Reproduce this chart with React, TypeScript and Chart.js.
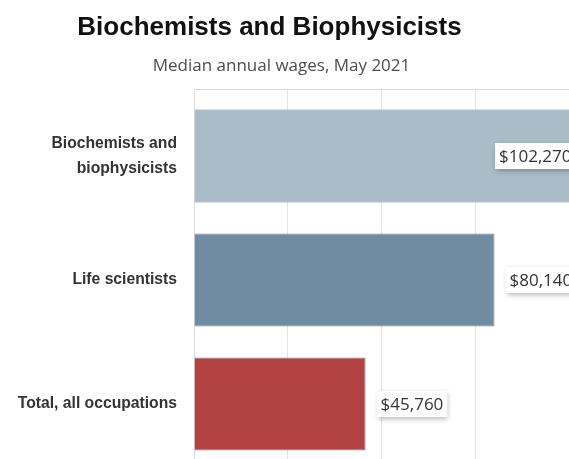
import { useEffect, useRef } from 'react';
import { Chart, registerables } from 'chart.js';

Chart.register(...registerables);

const TITLE = 'Biochemists and Biophysicists';
const SUBTITLE = 'Median annual wages, May 2021';
const categories: (string | string[])[] = [
  ['Biochemists and', 'biophysicists'],
  'Life scientists',
  'Total, all occupations',
];
const wages = [102270, 80140, 45760];
const barColors = ['#abbcc9', '#6f8ca3', '#b24242'];
const X_MIN = 0;
const X_MAX = 100000;
const X_STEP = 25000;

const fmt = (v: number) => '$' + v.toLocaleString('en-US');

const decorPlugin = {
  id: 'decor',
  afterDraw(chart: any) {
    const ctx = chart.ctx;
    const area = chart.chartArea;
    const xs = chart.scales.x;
    ctx.save();
    // top plot border
    ctx.strokeStyle = '#d9d9d9';
    ctx.lineWidth = 1;
    ctx.beginPath();
    ctx.moveTo(area.left, xs.top + 0.5);
    ctx.lineTo(area.right, xs.top + 0.5);
    ctx.stroke();
    // title + subtitle
    ctx.textAlign = 'center';
    ctx.textBaseline = 'alphabetic';
    ctx.fillStyle = '#111';
    ctx.font = 'bold 26px "Liberation Sans", Arial, sans-serif';
    ctx.fillText(TITLE, 269.5, 34.5);
    ctx.fillStyle = '#4d4d4d';
    ctx.font = '17px "Open Sans", sans-serif';
    ctx.fillText(SUBTITLE, 281.5, 71);
    ctx.restore();
  },
};

const valueLabelPlugin = {
  id: 'valueLabels',
  afterDatasetsDraw(chart: any) {
    const ctx = chart.ctx;
    const area = chart.chartArea;
    const meta = chart.getDatasetMeta(0);
    const data = chart.data.datasets[0].data as number[];
    ctx.save();
    ctx.font = '17px "Open Sans", sans-serif';
    meta.data.forEach((el: any, i: number) => {
      const text = fmt(data[i]);
      const tw = ctx.measureText(text).width;
      const w = tw + 8;
      const h = 26;
      const end = el.x;
      const bx = end > area.right ? end - 2 - w : end + 11;
      const by = el.y - h / 2;
      ctx.save();
      ctx.shadowColor = 'rgba(0,0,0,0.28)';
      ctx.shadowBlur = 5;
      ctx.shadowOffsetX = 1;
      ctx.shadowOffsetY = 2;
      ctx.fillStyle = '#ffffff';
      ctx.fillRect(bx, by, w, h);
      ctx.restore();
      ctx.fillStyle = '#333';
      ctx.textAlign = 'left';
      ctx.textBaseline = 'middle';
      ctx.fillText(text, bx + 4, el.y + 1);
    });
    ctx.restore();
  },
};

export default function App() {
  const ref = useRef<HTMLCanvasElement | null>(null);

  useEffect(() => {
    if (!ref.current) return;
    const chart = new Chart(ref.current, {
      type: 'bar',
      data: {
        labels: categories as any,
        datasets: [
          {
            data: wages,
            backgroundColor: barColors,
            borderColor: 'rgba(90,90,90,0.75)',
            borderWidth: 1,
            categoryPercentage: 1,
            barPercentage: 0.75,
          },
        ],
      },
      options: {
        indexAxis: 'y',
        animation: false,
        responsive: false,
        layout: { padding: { top: 89, left: 0, right: 0, bottom: 0 } },
        plugins: {
          legend: { display: false },
          title: { display: false },
          tooltip: { enabled: false },
        },
        scales: {
          x: {
            position: 'top',
            min: X_MIN,
            max: X_MAX,
            ticks: { display: false, stepSize: X_STEP },
            grid: { color: '#e3e3e3', drawTicks: true, tickLength: 5, lineWidth: 1 },
            border: { display: false },
            afterFit: (s: any) => {
              s.height = 5;
              s.paddingLeft = 0;
              s.paddingRight = 0;
            },
          },
          y: {
            grid: { display: false },
            border: { display: true, color: '#dcdcdc' },
            ticks: {
              color: '#333',
              padding: 9,
              font: {
                family: '"Liberation Sans", Arial, sans-serif',
                size: 15.7,
                weight: 'bold',
                lineHeight: '25px',
              },
            },
            afterFit: (s: any) => {
              s.width = 194;
              s.paddingTop = 0;
              s.paddingBottom = 0;
            },
          },
        },
      },
      plugins: [valueLabelPlugin, decorPlugin],
    } as any);
    return () => chart.destroy();
  }, []);

  return (
    <div
      style={{
        position: 'fixed',
        left: 0,
        top: 0,
        width: 569,
        height: 459,
        overflow: 'hidden',
        background: '#fff',
      }}
    >
      <canvas ref={ref} width={569} height={466} style={{ display: 'block' }} />
    </div>
  );
}
